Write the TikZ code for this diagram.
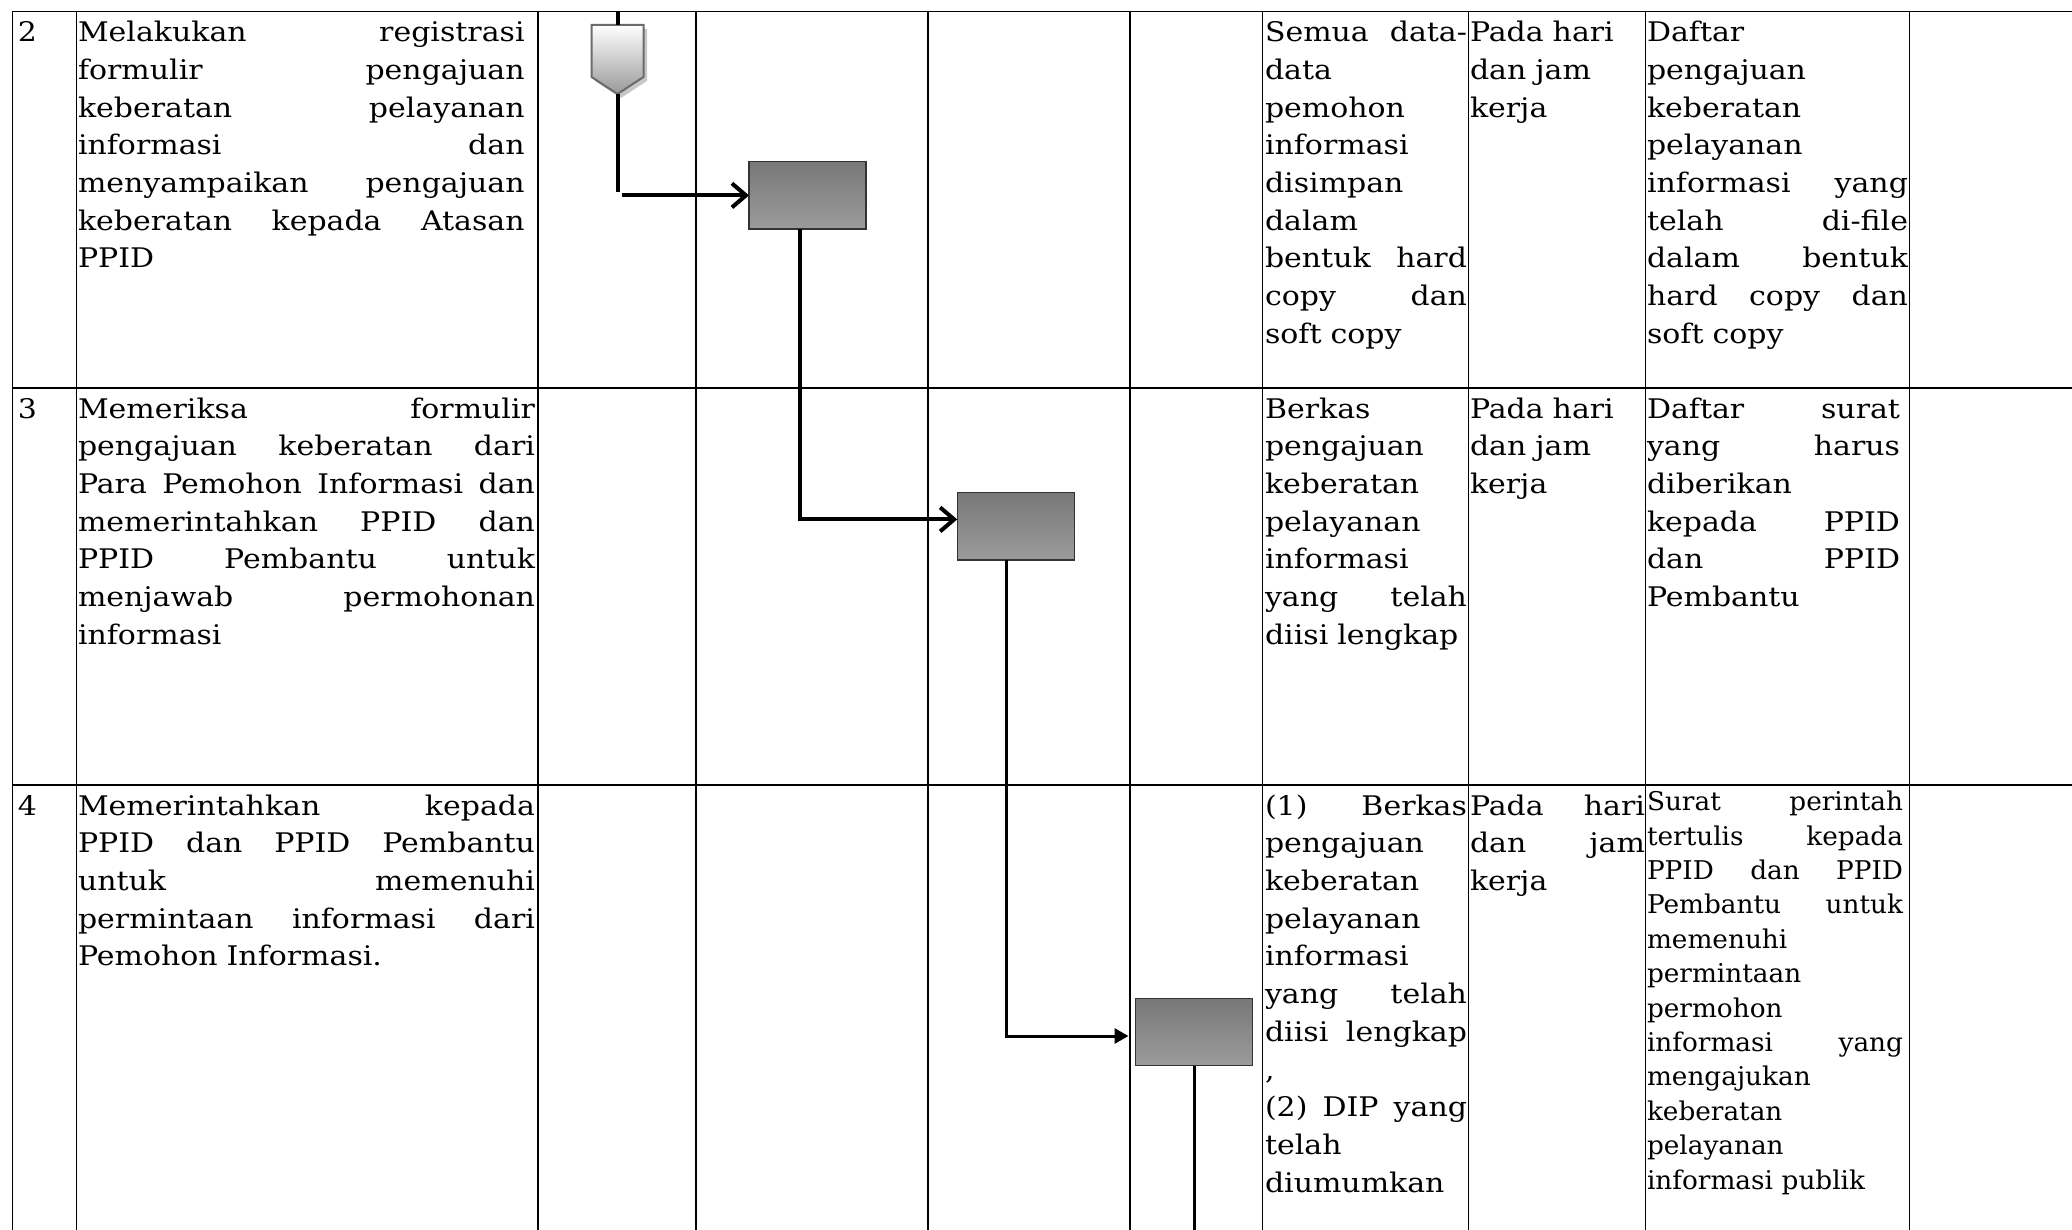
\documentclass[tikz,border=0pt]{standalone}
\usepackage{fontspec}
\setmainfont{DejaVu Serif}[FakeStretch=1.11]
\newfontfamily\narrowserif{DejaVu Serif}[FakeStretch=1.02]
\usetikzlibrary{arrows.meta}
\newcommand\cellfont{\fontsize{13.5}{18.85}\selectfont}
\newcommand\smallcellfont{\narrowserif\fontsize{12.9}{17.2}\selectfont}
\tikzset{
  grid/.style={line width=0.75pt},
  gridthin/.style={line width=0.4pt},
  cell/.style={anchor=north west, inner sep=0pt, outer sep=0pt, align=left, font=\cellfont},
  smallcell/.style={cell, font=\smallcellfont},
  proc/.style={draw=black!80, line width=0.7pt, top color=black!53, bottom color=black!39,
    minimum width=58.5pt, minimum height=33.7pt, inner sep=0pt, outer sep=0pt},
  flowbold/.style={line width=2pt},
  flowmid/.style={line width=1.5pt},
  barb/.style={-{Straight Barb[length=7pt,width=12pt]}},
  solidtip/.style={-{Triangle[length=7pt,width=7.5pt]}, shorten >=3.5pt}
}
\begin{document}
\begin{tikzpicture}[x=0.5pt,y=-0.5pt]
\useasboundingbox (0,0) rectangle (2072,1230);

% table rules
\foreach \yy in {11.5,388,785}
  \draw[grid] (12.7,\yy) -- (2072,\yy);
\foreach \xx in {12.7,76.7,537.8,696,928,1130,1262.5,1909.3}
  \draw[grid] (\xx,11.5) -- (\xx,1230);
\foreach \xx in {1468,1645.5}
  \draw[gridthin] (\xx,11.5) -- (\xx,1230);

% row numbers
\node[cell] (n2) at (18,15.3) {\strut 2};
\node[cell] (n3) at (18,391.8) {\strut 3};
\node[cell] (n4) at (18,788.8) {\strut 4};

% activity descriptions
\node[cell, text width=223.3pt] (a2) at (78,15.3) {\strut Melakukan \hfill registrasi\\
formulir \hfill pengajuan\\
keberatan \hfill pelayanan\\
informasi \hfill dan\\
menyampaikan \hfill pengajuan\\
keberatan \hfill kepada \hfill Atasan\\
PPID};
\node[cell, text width=228.5pt] (a3) at (78,391.8) {\strut Memeriksa \hfill formulir\\
pengajuan \hfill keberatan \hfill dari\\
Para \hfill Pemohon \hfill Informasi \hfill dan\\
memerintahkan \hfill PPID \hfill dan\\
PPID \hfill Pembantu \hfill untuk\\
menjawab \hfill permohonan\\
informasi};
\node[cell, text width=228.5pt] (a4) at (78,788.8) {\strut Memerintahkan \hfill kepada\\
PPID \hfill dan \hfill PPID \hfill Pembantu\\
untuk \hfill memenuhi\\
permintaan \hfill informasi \hfill dari\\
Pemohon Informasi.};

% requirements
\node[cell, text width=101pt] (r2) at (1265,15.3) {\strut Semua \hfill data-\\
data\\
pemohon\\
informasi\\
disimpan\\
dalam\\
bentuk \hfill hard\\
copy \hfill dan\\
soft copy};
\node[cell, text width=101pt] (r3) at (1265,391.8) {\strut Berkas\\
pengajuan\\
keberatan\\
pelayanan\\
informasi\\
yang \hfill telah\\
diisi lengkap};
\node[cell, text width=101pt] (r4) at (1265,788.8) {\strut (1) \hfill Berkas\\
pengajuan\\
keberatan\\
pelayanan\\
informasi\\
yang \hfill telah\\
diisi \hfill lengkap\\
,\\
(2) \hfill DIP \hfill yang\\
telah\\
diumumkan};

% time
\node[cell, text width=87.5pt] (w2) at (1470,15.3) {\strut Pada hari\\dan jam\\kerja};
\node[cell, text width=87.5pt] (w3) at (1470,391.8) {\strut Pada hari\\dan jam\\kerja};
\node[cell, text width=87.5pt] (w4) at (1470,788.8) {\strut Pada \hfill hari\\dan \hfill jam\\kerja};

% outputs
\node[cell, text width=130.5pt] (o2) at (1647,15.3) {\strut Daftar\\
pengajuan\\
keberatan\\
pelayanan\\
informasi \hfill yang\\
telah \hfill di-file\\
dalam \hfill bentuk\\
hard \hfill copy \hfill dan\\
soft copy};
\node[cell, text width=126.5pt] (o3) at (1647,391.8) {\strut Daftar \hfill surat\\
yang \hfill harus\\
diberikan\\
kepada \hfill PPID\\
dan \hfill PPID\\
Pembantu};
\node[smallcell, text width=128pt] (o4) at (1647,786.6) {\strut Surat \hfill perintah\\
tertulis \hfill kepada\\
PPID \hfill dan \hfill PPID\\
Pembantu \hfill untuk\\
memenuhi\\
permintaan\\
permohon\\
informasi \hfill yang\\
mengajukan\\
keberatan\\
pelayanan\\
informasi publik};

% off-page connector
\coordinate (cin) at (617.5,11.5);
\coordinate (ctop) at (617.5,25);
\coordinate (ctip) at (617.5,94);
\fill[black!22] (595,29) -- (647,29) -- (647,81) -- (621,98) -- (595,81) -- cycle;
\shade[top color=white, bottom color=black!40, draw=black!58, line width=1pt]
  (591.5,25) -- (643.5,25) -- (643.5,77) -- (ctip) -- (591.5,77) -- cycle;
\draw[flowbold] (cin) -- (ctop);

% process boxes
\node[proc] (b1) at (807.5,195.4) {};
\node[proc] (b2) at (1015.7,526.4) {};
\node[proc] (b3) at (1194,1032) {};

% flow
\coordinate (k0) at (617.5,192);
\coordinate (k1) at (622,195.4);
\coordinate (kend) at (1195,1230);
\draw[flowbold] (ctip) -- (k0);
\draw[flowbold, barb] (k1) -- (b1.west);
\draw[flowbold, barb] ([xshift=-4pt]b1.south) |- ([yshift=3.5pt]b2.west);
\draw[flowmid, solidtip] ([xshift=-4.4pt]b2.south) |- ([yshift=-2pt]b3.west);
\draw[flowmid] (b3.south) -- (b3.south |- kend);
\end{tikzpicture}
\end{document}
